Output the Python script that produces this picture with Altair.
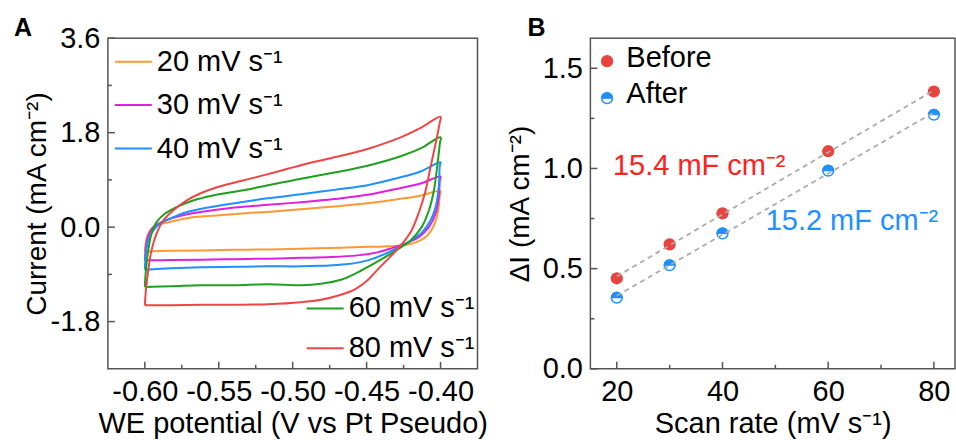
import altair as alt
import pandas as pd

FONT = "Liberation Sans"
FRAME = "#555555"

# ---------------- Panel A: cyclic voltammograms (V vs Pt pseudo, mA cm^-2), traced around each loop
rate_labels = ["20 mV s⁻¹", "30 mV s⁻¹", "40 mV s⁻¹", "60 mV s⁻¹", "80 mV s⁻¹"]
rate_colors = ["#FF9933", "#E020E0", "#1E90FF", "#1FA01F", "#EE4646"]

v20 = [-0.6000, -0.5993, -0.5977, -0.5943, -0.5887, -0.5809, -0.5697, -0.5517, -0.5315, -0.5168, -0.4944, -0.4719, -0.4494, -0.4270, -0.4135, -0.4000,
       -0.4005, -0.4016, -0.4045, -0.4101, -0.4180, -0.4270, -0.4382, -0.4540, -0.4674, -0.4944, -0.5168, -0.5393, -0.5618, -0.5820, -0.6000]
i20 = [-0.462, -0.285, -0.125, 0.000, 0.065, 0.114, 0.179, 0.222, 0.266, 0.290, 0.340, 0.395, 0.455, 0.540, 0.600, 0.684,
       0.602, 0.317, 0.032, -0.190, -0.304, -0.348, -0.367, -0.380, -0.392, -0.411, -0.424, -0.433, -0.443, -0.452, -0.462]

v30 = [-0.6000, -0.5993, -0.5977, -0.5943, -0.5887, -0.5809, -0.5697, -0.5517, -0.5315, -0.5168, -0.4944, -0.4719, -0.4494, -0.4270, -0.4135, -0.4000,
       -0.4005, -0.4012, -0.4034, -0.4079, -0.4147, -0.4236, -0.4324, -0.4427, -0.4562, -0.4742, -0.4944, -0.5168, -0.5393, -0.5618, -0.5820, -0.6000]
i30 = [-0.633, -0.380, -0.158, 0.000, 0.095, 0.179, 0.255, 0.331, 0.393, 0.425, 0.475, 0.535, 0.615, 0.745, 0.830, 0.964,
       0.888, 0.570, 0.255, 0.000, -0.190, -0.310, -0.395, -0.481, -0.538, -0.570, -0.585, -0.600, -0.610, -0.620, -0.627, -0.633]

v40 = [-0.6000, -0.5993, -0.5977, -0.5943, -0.5899, -0.5832, -0.5719, -0.5562, -0.5315, -0.5168, -0.4944, -0.4719, -0.4494, -0.4270, -0.4135, -0.4000,
       -0.4005, -0.4012, -0.4034, -0.4068, -0.4124, -0.4203, -0.4290, -0.4382, -0.4494, -0.4641, -0.4809, -0.4944, -0.5168, -0.5393, -0.5618, -0.5820, -0.6000]
i40 = [-0.810, -0.506, -0.253, -0.063, 0.065, 0.160, 0.285, 0.380, 0.488, 0.550, 0.625, 0.710, 0.800, 0.950, 1.060, 1.235,
       1.173, 0.760, 0.380, 0.127, -0.095, -0.262, -0.395, -0.519, -0.633, -0.709, -0.737, -0.747, -0.747, -0.756, -0.766, -0.785, -0.810]

v60 = [-0.6000, -0.5993, -0.5977, -0.5955, -0.5921, -0.5865, -0.5786, -0.5674, -0.5539, -0.5315, -0.5168, -0.4944, -0.4719, -0.4494, -0.4270, -0.4135, -0.4000,
       -0.4005, -0.4023, -0.4045, -0.4079, -0.4128, -0.4203, -0.4290, -0.4378, -0.4472, -0.4573, -0.4674, -0.4809, -0.4944, -0.5168, -0.5393, -0.5618, -0.5820, -0.6000]
i60 = [-1.140, -0.823, -0.443, -0.125, 0.095, 0.255, 0.380, 0.507, 0.603, 0.711, 0.800, 0.920, 1.040, 1.170, 1.350, 1.500, 1.711,
       1.585, 1.140, 0.698, 0.317, 0.000, -0.253, -0.424, -0.576, -0.728, -0.880, -1.003, -1.079, -1.108, -1.089, -1.108, -1.108, -1.127, -1.140]

v80 = [-0.6000, -0.5993, -0.5977, -0.5955, -0.5921, -0.5876, -0.5809, -0.5719, -0.5606, -0.5495, -0.5337, -0.5168, -0.4944, -0.4719, -0.4494, -0.4270, -0.4135, -0.4000,
       -0.4005, -0.4034, -0.4068, -0.4101, -0.4142, -0.4196, -0.4263, -0.4338, -0.4418, -0.4494, -0.4573, -0.4674, -0.4809, -0.4944, -0.5168, -0.5393, -0.5618, -0.5820, -0.6000]
i80 = [-1.488, -1.203, -0.823, -0.443, -0.125, 0.127, 0.317, 0.507, 0.665, 0.774, 0.888, 1.010, 1.180, 1.330, 1.490, 1.710, 1.890, 2.104,
       1.996, 1.585, 1.140, 0.698, 0.317, -0.063, -0.329, -0.557, -0.785, -1.013, -1.175, -1.289, -1.384, -1.431, -1.469, -1.479, -1.479, -1.488, -1.488]

A_x_major = [-0.60, -0.55, -0.50, -0.45, -0.40]
A_x_minor = [-0.575, -0.525, -0.475, -0.425]
A_y_major = [-1.8, 0.0, 1.8, 3.6]
A_y_minor = [-0.9, 0.9, 2.7]

# ---------------- Panel B: capacitive current difference vs scan rate
scan_rates = [20, 30, 40, 60, 80]
di_before = [0.452, 0.621, 0.776, 1.086, 1.384]
di_after = [0.355, 0.517, 0.676, 0.989, 1.268]
slope_labels = ["15.4 mF cm⁻²", "15.2 mF cm⁻²"]
slope_colors = ["#FF2020", "#1E90FF"]
slope_x = [35.6, 64.5]
slope_y = [0.966, 0.691]

B_x_major = [20, 40, 60, 80]
B_x_minor = [30, 50, 70]
B_y_major = [0.0, 0.5, 1.0, 1.5]
B_y_minor = [0.25, 0.75, 1.25]

RED_M = "#E8433F"
BLUE_M = "#1E90FF"
FS = 29

WA, HA = 370, 331
WB, HB = 365, 331

# ---------- build panel A ----------
recs = []
for lab, vs, cs in zip(rate_labels, [v20, v30, v40, v60, v80], [i20, i30, i40, i60, i80]):
    for k, (v, c) in enumerate(zip(vs, cs)):
        recs.append({"rate": lab, "V": v, "I": c, "k": k})
dfA = pd.DataFrame(recs)

xsA = alt.Scale(domain=[-0.625, -0.375], nice=False, zero=False)
ysA = alt.Scale(domain=[-2.7, 3.6], nice=False, zero=False)

neg2 = "(datum.value < 0 ? '-' : '') + format(abs(datum.value), '.2f')"
neg1 = "(datum.value < 0 ? '-' : '') + format(abs(datum.value), '.1f')"

xA = alt.X("V:Q", scale=xsA, axis=alt.Axis(values=A_x_major, labelExpr=neg2, title="WE potential (V vs Pt Pseudo)",
                                             titleY=41, labelPadding=9))
yA = alt.Y("I:Q", scale=ysA, axis=alt.Axis(values=A_y_major, labelExpr=neg1, title="Current (mA cm⁻²)",
                                             titleX=-56, titleFontSize=28, labelPadding=8))


def leg(x, y, rp):
    return alt.Legend(orient="none", legendX=x, legendY=y, title=None, symbolType="stroke", symbolSize=1369,
                      symbolStrokeWidth=2, labelFontSize=FS, labelFont=FONT, labelColor="black", labelOffset=4,
                      rowPadding=rp, labelLimit=0, padding=0)


linesTop = alt.Chart(dfA[dfA["rate"].isin(rate_labels[:3])]).mark_line(strokeWidth=2, interpolate="catmull-rom").encode(
    x=xA, y=yA, order=alt.Order("k:Q"),
    color=alt.Color("rate:N", scale=alt.Scale(domain=rate_labels[:3], range=rate_colors[:3]), legend=leg(6, 4, 8.5)))
linesBot = alt.Chart(dfA[dfA["rate"].isin(rate_labels[3:])]).mark_line(strokeWidth=2, interpolate="catmull-rom").encode(
    x=xA, y=yA, order=alt.Order("k:Q"),
    color=alt.Color("rate:N", scale=alt.Scale(domain=rate_labels[3:], range=rate_colors[3:]), legend=leg(198, 251, 5)))


def xticks(vals, enc, col, length, H):
    return alt.Chart(pd.DataFrame({col: vals})).mark_rule(color=FRAME, strokeWidth=1.5).encode(
        x=enc, y=alt.value(H), y2=alt.value(H - length))


def yticks(vals, enc, col, length):
    return alt.Chart(pd.DataFrame({col: vals})).mark_rule(color=FRAME, strokeWidth=1.5).encode(
        y=enc, x=alt.value(0), x2=alt.value(length))


def letter(txt, x):
    return alt.Chart(pd.DataFrame({"l": [txt]})).mark_text(
        font=FONT, fontSize=25, fontWeight="bold", align="left", baseline="alphabetic", color="black").encode(
        text="l:N", x=alt.value(x), y=alt.value(-2))


panelA = alt.layer(
    linesTop, linesBot,
    xticks(A_x_major, xA, "V", 7, HA), xticks(A_x_minor, xA, "V", 4, HA),
    yticks(A_y_major, yA, "I", 7), yticks(A_y_minor, yA, "I", 4),
    letter("A", -94),
).resolve_scale(color="independent").properties(width=WA, height=HA)

# ---------- build panel B ----------
dfB = pd.DataFrame({"rate": scan_rates * 2, "dI": di_before + di_after,
                    "series": ["Before"] * len(scan_rates) + ["After"] * len(scan_rates)})
xsB = alt.Scale(domain=[15, 84], nice=False, zero=False)
ysB = alt.Scale(domain=[0, 1.65], nice=False, zero=False)
xB = alt.X("rate:Q", scale=xsB, axis=alt.Axis(values=B_x_major, format="d", title="Scan rate (mV s⁻¹)",
                                               titleY=41, labelPadding=9))
yB = alt.Y("dI:Q", scale=ysB, axis=alt.Axis(values=B_y_major, format=".1f", title="ΔI (mA cm⁻²)",
                                             titleX=-56, titleFontSize=28, labelPadding=8))

HALF = "M -1 0 A 1 1 0 0 1 1 0 Z"

before_pts = alt.Chart(dfB[dfB.series == "Before"]).mark_point(
    shape="circle", filled=True, size=150, color=RED_M, opacity=1).encode(x=xB, y=yB)
after_ring = alt.Chart(dfB[dfB.series == "After"]).mark_point(
    shape="circle", filled=True, fill="white", stroke=BLUE_M, strokeWidth=1.5, size=115, opacity=1).encode(x=xB, y=yB)
after_half = alt.Chart(dfB[dfB.series == "After"]).mark_point(
    shape=HALF, filled=True, fill=BLUE_M, stroke=BLUE_M, strokeWidth=1.2, size=115, opacity=1).encode(x=xB, y=yB)
fits = alt.Chart(dfB).transform_regression("rate", "dI", groupby=["series"], extent=[20, 80]).mark_line(
    color="#ABABAB", strokeDash=[5, 4], strokeWidth=1.8).encode(x=xB, y=yB, detail="series:N")

dfAnn = pd.DataFrame({"rate": slope_x, "dI": slope_y, "txt": slope_labels, "c": slope_colors})
ann = alt.Chart(dfAnn).mark_text(font=FONT, fontSize=FS, align="center", baseline="alphabetic").encode(
    x=xB, y=yB, text="txt:N", color=alt.Color("c:N", scale=None))

# legend for panel B
legend_names = ["Before", "After"]
lg_before = alt.Chart(pd.DataFrame({"s": [legend_names[0]]})).mark_point(
    shape="circle", filled=True, size=150, color=RED_M, opacity=1).encode(x=alt.value(16.7), y=alt.value(23))
lg_after_ring = alt.Chart(pd.DataFrame({"s": [legend_names[1]]})).mark_point(
    shape="circle", filled=True, fill="white", stroke=BLUE_M, strokeWidth=1.5, size=115, opacity=1).encode(
    x=alt.value(16.7), y=alt.value(60))
lg_after_half = alt.Chart(pd.DataFrame({"s": [legend_names[1]]})).mark_point(
    shape=HALF, filled=True, fill=BLUE_M, stroke=BLUE_M, strokeWidth=1.2, size=115, opacity=1).encode(
    x=alt.value(16.7), y=alt.value(60))
lg_t1 = alt.Chart(pd.DataFrame({"s": [legend_names[0]]})).mark_text(
    font=FONT, fontSize=FS, align="left", baseline="alphabetic", color="black").encode(
    text="s:N", x=alt.value(36), y=alt.value(29))
lg_t2 = alt.Chart(pd.DataFrame({"s": [legend_names[1]]})).mark_text(
    font=FONT, fontSize=FS, align="left", baseline="alphabetic", color="black").encode(
    text="s:N", x=alt.value(36), y=alt.value(65))

panelB = alt.layer(
    before_pts, after_ring, after_half, fits, ann,
    lg_before, lg_after_ring, lg_after_half, lg_t1, lg_t2,
    xticks(B_x_major, xB, "rate", 7, HB), xticks(B_x_minor, xB, "rate", 4, HB),
    yticks(B_y_major, yB, "dI", 7), yticks(B_y_minor, yB, "dI", 4),
    letter("B", -63),
).properties(width=WB, height=HB)

chart = alt.hconcat(panelA, panelB, spacing=113, bounds="flush").configure(
    padding={"left": 13, "top": 15, "right": 0, "bottom": 0}, background="white", font=FONT
).configure_view(stroke=FRAME, strokeWidth=1.5).configure_axis(
    domain=False, ticks=False, tickSize=0, grid=False, labelFontSize=FS, titleFontSize=FS,
    labelFont=FONT, titleFont=FONT, titleFontWeight="normal", labelColor="black", titleColor="black",
    labelFlush=False, labelOverlap=False)

chart.save("out.html", embed_options={"renderer": "svg", "actions": False})
